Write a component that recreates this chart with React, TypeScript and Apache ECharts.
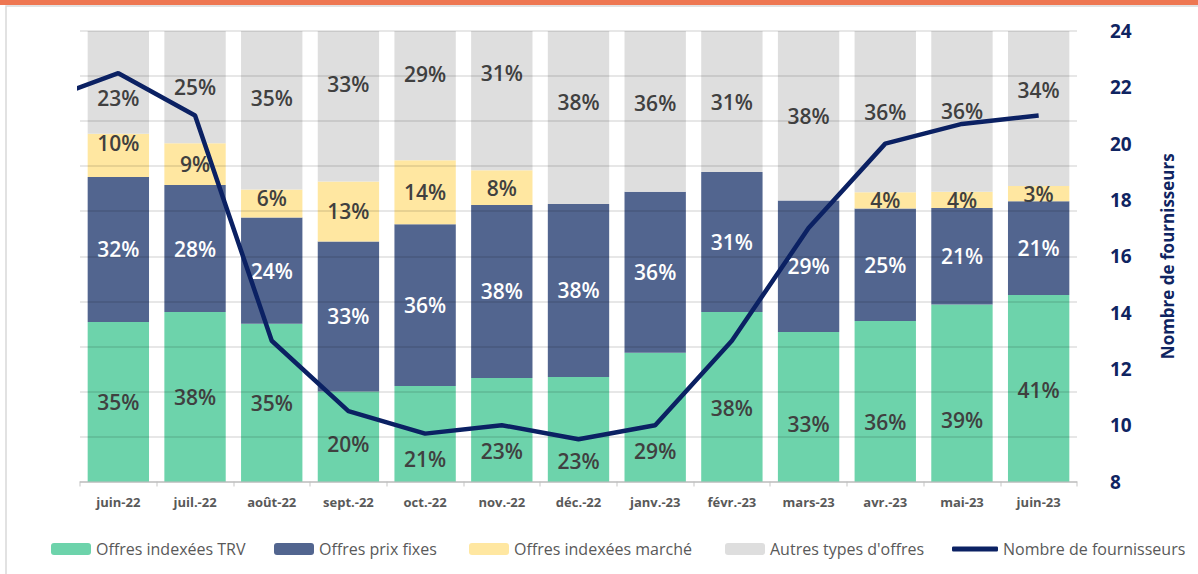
import React, { useEffect, useRef } from "react";
import * as echarts from "echarts";

const categories = ["juin-22", "juil.-22", "août-22", "sept.-22", "oct.-22", "nov.-22", "déc.-22", "janv.-23", "févr.-23", "mars-23", "avr.-23", "mai-23", "juin-23"];
const trvShare = [35.4, 37.6, 35.0, 20.0, 21.2, 23.0, 23.2, 28.6, 37.6, 33.2, 35.6, 39.3, 41.4];
const fixedShare = [32.2, 28.2, 23.6, 33.3, 35.9, 38.4, 38.4, 35.7, 31.1, 29.2, 25.0, 21.4, 20.8];
const marketShare = [9.6, 9.3, 6.2, 13.3, 14.2, 7.7, 0, 0, 0, 0, 3.6, 3.6, 3.4];
const otherShare = [22.8, 24.9, 35.2, 33.4, 28.7, 30.9, 38.4, 35.7, 31.3, 37.6, 35.8, 35.7, 34.4];
// supplier count line: first value is the month before juin-22 (clipped at the left edge)
const supplierMonths = ["mai-22", ...categories];
const supplierCounts = [21.5, 22.5, 21.0, 13.0, 10.5, 9.7, 10.0, 9.5, 10.0, 13.0, 17.0, 20.0, 20.7, 21.0];
const rightTicks = [8, 24, 2];

// label nudges (layout only)
const trvLabelDy = [0, 0, 0, 8, 25, 21, 32, 34, 11, 17, 21, 27, 2];
const marketLabelDy = [-12, 0, -6, 0, 0, 0, 0, 0, 0, 0, 0, 0, 0];
const otherLabelDy = [16, 0, -12, -22, -22, -28, -15, -8, 0, 0, 0, 0, -18];

const seriesNames = ["Offres indexées TRV", "Offres prix fixes", "Offres indexées marché", "Autres types d'offres", "Nombre de fournisseurs"];
const colors = ["#6DD3AB", "#52658F", "#FFE7A1", "#DEDEDE", "#0B2163"];
const legendLeft = [46, 269, 464, 720, 947];

const FONT = "'Open Sans', 'Noto Sans', sans-serif";

function barSeries(name: string, values: number[], color: string, labelColor: string, dy: number[] | null) {
  return {
    name,
    type: "bar",
    stack: "total",
    barCategoryGap: "20%",
    itemStyle: { color },
    z: 2,
    label: {
      show: true,
      position: "inside",
      color: labelColor,
      fontFamily: FONT,
      fontSize: 21,
      fontWeight: 600,
      formatter: (p: any) => (p.value > 0 ? Math.round(p.value) + "%" : ""),
    },
    data: values.map((v, i) => ({
      value: v,
      label: dy ? { offset: [0, dy[i]] } : undefined,
    })),
  };
}

export default function App() {
  const ref = useRef<HTMLDivElement>(null);
  useEffect(() => {
    if (!ref.current) return;
    const chart = echarts.init(ref.current, null, { renderer: "svg" });
    const option: any = {
      animation: false,
      backgroundColor: "#ffffff",
      textStyle: { fontFamily: FONT },
      grid: { left: 80, right: 121, top: 31, bottom: 92.5, containLabel: false },
      legend: seriesNames.map((n, i) => ({
        data: [i === 4 ? { name: n, icon: "roundRect" } : n],
        left: legendLeft[i],
        top: 536,
        itemWidth: i === 4 ? 46 : 40,
        itemHeight: i === 4 ? 5 : 12,
        itemGap: 2,
        textStyle: { fontSize: 16, color: "#595959", fontFamily: FONT },
      })),
      xAxis: [
        {
          type: "category",
          data: categories,
          axisLine: { lineStyle: { color: "#D9D9D9", width: 1.5 } },
          axisTick: { show: true, length: 5, lineStyle: { color: "#D9D9D9", width: 1.5 } },
          axisLabel: { color: "#595959", fontSize: 13, fontWeight: "bold", margin: 14, fontFamily: FONT },
        },
        { type: "value", min: -0.5, max: 12.5, show: false },
      ],
      yAxis: [
        {
          type: "value",
          min: 0,
          max: 100,
          interval: 10,
          z: 3,
          axisLabel: { show: false },
          axisLine: { show: false },
          axisTick: { show: false },
          splitLine: { show: true, lineStyle: { color: "rgba(0,0,0,0.13)", width: 1.5 } },
        },
        {
          type: "value",
          position: "right",
          min: rightTicks[0],
          max: rightTicks[1],
          interval: rightTicks[2],
          axisLine: { show: false },
          axisTick: { show: false },
          splitLine: { show: false },
          axisLabel: { color: "#0F2461", fontSize: 19, fontWeight: "bold", margin: 33, fontFamily: FONT },
          name: "Nombre de fournisseurs",
          nameLocation: "middle",
          nameRotate: 90,
          nameGap: 82,
          nameTextStyle: { color: "#0F2461", fontSize: 17, fontWeight: "bold", fontFamily: FONT },
        },
      ],
      series: [
        barSeries(seriesNames[0], trvShare, colors[0], "#404040", trvLabelDy),
        barSeries(seriesNames[1], fixedShare, colors[1], "#FFFFFF", null),
        barSeries(seriesNames[2], marketShare, colors[2], "#404040", marketLabelDy),
        barSeries(seriesNames[3], otherShare, colors[3], "#404040", otherLabelDy),
        {
          name: seriesNames[4],
          type: "line",
          xAxisIndex: 1,
          yAxisIndex: 1,
          symbol: "none",
          clip: true,
          z: 6,
          itemStyle: { color: colors[4] },
          lineStyle: { color: colors[4], width: 4.5 },
          data: supplierCounts.map((v, i) => [i - 1, v]),
        },
      ],
      graphic: [
        { type: "rect", shape: { x: 6, y: 6, width: 1300, height: 700 }, style: { fill: "none", stroke: "#D9D9D9", lineWidth: 1.5 }, silent: true },
        { type: "rect", shape: { x: 0, y: 0, width: 1198, height: 5 }, style: { fill: "#EE7752" }, silent: true },
      ],
    };
    chart.setOption(option);
    return () => chart.dispose();
  }, []);
  return <div ref={ref} style={{ position: "fixed", left: 0, top: 0, width: 1198, height: 574 }} />;
}
